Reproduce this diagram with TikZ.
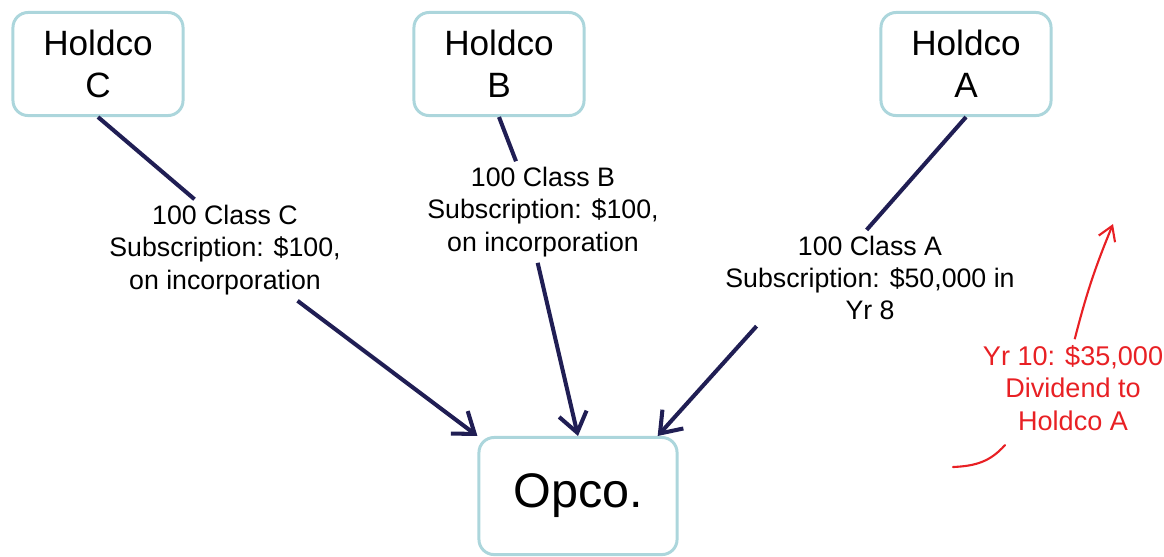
\documentclass[tikz,border=0pt]{standalone}
\usepackage{fontspec}
\setmainfont{Liberation Sans}
\usetikzlibrary{arrows.meta,calc,positioning}

\definecolor{boxline}{RGB}{172,214,220}
\definecolor{navy}{RGB}{32,30,84}
\definecolor{divred}{RGB}{232,32,36}

\begin{document}
\begin{tikzpicture}[
            x=0.01cm,y=-0.01cm,
            holdco/.style={draw=boxline,line width=0.85pt,rounded corners=4.3pt,
                minimum width=1.7cm,minimum height=1.03cm,align=center,
                font=\fontsize{10}{12}\selectfont},
            share/.style={align=center,inner sep=1.5pt,font=\fontsize{7.6}{9.2}\selectfont},
            link/.style={draw=navy,line width=1.15pt},
            flow/.style={link,-{Straight Barb[length=5.5pt,width=8pt,line width=1.15pt]}}
        ]
            \useasboundingbox (0,0) rectangle (1164,556);

            % the four companies
            \node (hc) [holdco] at (98,64)  {Holdco\\C};
            \node (hb) [holdco] at (499,64) {Holdco\\B};
            \node (ha) [holdco] at (966,64) {Holdco\\A};
            \node (op) [holdco,minimum width=1.98cm,minimum height=1.17cm,
                        font=\fontsize{13.8}{16}\selectfont] at (578,496) {Opco.};

            % subscriptions
            \node (lc) [share] at (225,250) {100 Class C\\Subscription: \$100,\\on incorporation};
            \node (lb) [share] at (543,212) {100 Class B\\Subscription: \$100,\\on incorporation};
            \node (la) [share] at (870,278) {100 Class A\\Subscription: \$50,000 in\\Yr 8};

            \draw [link] (hc.south) -- (lc.121);
            \draw [flow] (lc.-35)   -- (op.north west);
            \draw [link] (hb.south) -- (lb.118);
            \draw [flow] (lb.-96)   -- (op.north);
            \draw [link] (ha.south) -- (la.94);
            \draw [flow] (la.203)   -- (op.37);

            % dividend
            \node (dv) [share,text=divred,font=\fontsize{7.7}{9.3}\selectfont] at (1073,388)
                {Yr 10: \$35,000\\Dividend to\\Holdco A};
            \coordinate (dvtip) at (1113,224);
            \coordinate (sw1)   at (953,467);
            \coordinate (sw2)   at (1005,445);
            \draw [divred,line width=0.6pt,-{Straight Barb[length=4pt,width=5pt,line width=0.6pt]}]
                (dv.88) to[bend left=4] (dvtip);
            \draw [divred,line width=0.6pt,line cap=round]
                (sw1) .. controls (975,466) and (990,462) .. (sw2);
        \end{tikzpicture}
\end{document}
